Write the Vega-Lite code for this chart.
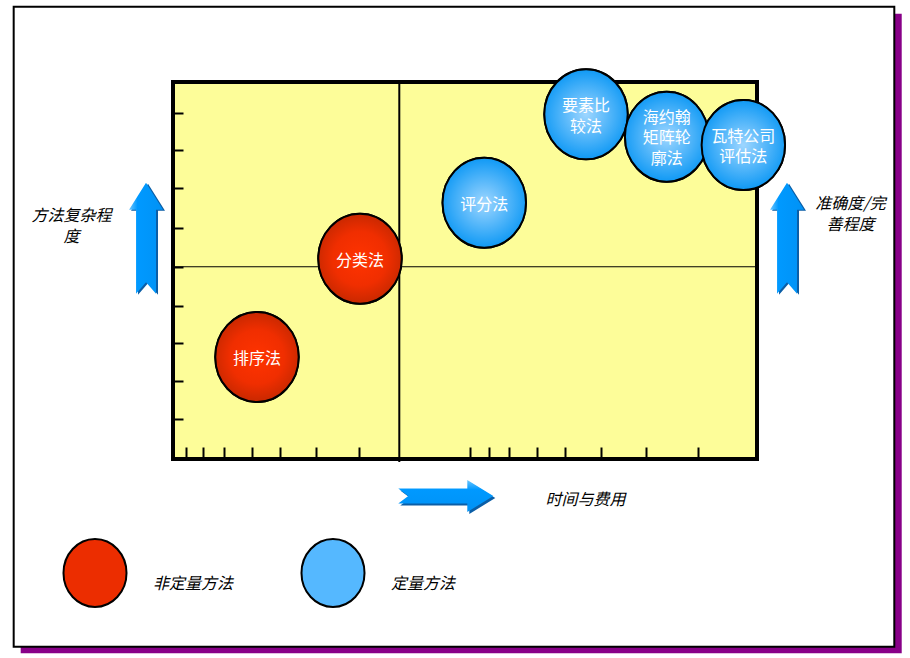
{
  "$schema": "https://vega.github.io/schema/vega-lite/v6.json",
  "width": 584,
  "height": 377,
  "autosize": {"type": "none"},
  "padding": {"left": 173, "top": 82, "right": 153, "bottom": 199},
  "background": "white",
  "config": {
    "view": {"stroke": null, "fill": null},
    "font": "Noto Sans CJK SC",
    "axis": {"titleFont": "Noto Sans CJK SC", "titleFontSize": 16, "titleFontWeight": "normal", "titleFontStyle": "italic", "titleColor": "black", "titleLineHeight": 21, "titleAngle": 0, "titleAlign": "center", "titleBaseline": "middle", "grid": false, "labels": false, "domain": false}
  },
  "datasets": {
    "methods": [
      {"method": "排序法", "label": "排序法", "cost": 14.38, "complexity": 27.06, "type": "非定量方法"},
      {"method": "分类法", "label": "分类法", "cost": 32.02, "complexity": 53.13, "type": "非定量方法"},
      {"method": "评分法", "label": "评分法", "cost": 53.3, "complexity": 67.98, "type": "定量方法"},
      {"method": "要素比较法", "label": "要素比\n较法", "cost": 70.72, "complexity": 91.43, "type": "定量方法"},
      {"method": "海约翰矩阵轮廓法", "label": "海约翰\n矩阵轮\n廓法", "cost": 84.53, "complexity": 85.49, "type": "定量方法"},
      {"method": "瓦特公司评估法", "label": "瓦特公司\n评估法", "cost": 97.66, "complexity": 83.29, "type": "定量方法"}
    ]
  },
  "resolve": {"axis": {"x": "independent", "y": "independent"}},
  "layer": [
    {
      "data": {"values": [{}]},
      "mark": {"type": "rect", "fill": "#880088"},
      "encoding": {
        "x": {"datum": -26.08, "type": "quantitative", "scale": {"domain": [0, 100], "nice": false, "zero": false}, "axis": null},
        "x2": {"datum": 124.78},
        "y": {"datum": 118.12, "type": "quantitative", "scale": {"domain": [0, 100], "nice": false, "zero": false}, "axis": null},
        "y2": {"datum": -51.54}
      }
    },
    {
      "data": {"values": [{}]},
      "mark": {"type": "rect", "fill": "white", "stroke": "black", "strokeWidth": 2},
      "encoding": {
        "x": {"datum": -27.28, "type": "quantitative", "scale": {"domain": [0, 100], "nice": false, "zero": false}, "axis": null},
        "x2": {"datum": 123.51},
        "y": {"datum": 119.97, "type": "quantitative", "scale": {"domain": [0, 100], "nice": false, "zero": false}, "axis": null},
        "y2": {"datum": -49.79}
      }
    },
    {
      "data": {"values": [{}]},
      "mark": {"type": "rect", "fill": "#FDFD99", "stroke": "black", "strokeWidth": 4},
      "encoding": {
        "x": {"datum": 0, "type": "quantitative", "scale": {"domain": [0, 100], "nice": false, "zero": false}, "axis": null},
        "x2": {"datum": 100},
        "y": {"datum": 0, "type": "quantitative", "scale": {"domain": [0, 100], "nice": false, "zero": false}, "axis": null},
        "y2": {"datum": 100}
      }
    },
    {
      "data": {"values": [{}]},
      "mark": {"type": "rule", "color": "black", "strokeWidth": 1.2},
      "encoding": {
        "x": {"datum": 0, "type": "quantitative", "scale": {"domain": [0, 100], "nice": false, "zero": false}, "axis": null},
        "x2": {"datum": 100},
        "y": {"datum": 51, "type": "quantitative", "scale": {"domain": [0, 100], "nice": false, "zero": false},
          "axis": {"orient": "right", "ticks": false, "zindex": 1, "title": ["准确度/完", "善程度"], "titleX": 93, "titleY": 121}}
      }
    },
    {
      "data": {"values": [{}]},
      "mark": {"type": "rule", "color": "black", "strokeWidth": 2},
      "encoding": {
        "x": {"datum": 38.75, "type": "quantitative", "scale": {"domain": [0, 100], "nice": false, "zero": false}, "axis": null},
        "y": {"datum": -0.8, "type": "quantitative", "scale": {"domain": [0, 100], "nice": false, "zero": false}, "axis": null},
        "y2": {"datum": 100}
      }
    },
    {
      "data": {"values": [{}]},
      "mark": {"type": "point", "shape": "M0,-1L0.306,-0.514L0.18,-0.514L0.18,1L0,0.793L-0.18,1L-0.18,-0.514L-0.306,-0.514Z", "size": 12321, "filled": true, "opacity": 1, "color": "#0B5EA6", "xOffset": 2, "yOffset": 1},
      "encoding": {
        "x": {"datum": -4.62, "type": "quantitative", "scale": {"domain": [0, 100], "nice": false, "zero": false}, "axis": null},
        "y": {"datum": 58.54, "type": "quantitative", "scale": {"domain": [0, 100], "nice": false, "zero": false}, "axis": null}
      }
    },
    {
      "data": {"values": [{}]},
      "mark": {"type": "point", "shape": "M0,-1L0.306,-0.514L0.18,-0.514L0.18,1L0,0.793L-0.18,1L-0.18,-0.514L-0.306,-0.514Z", "size": 12321, "filled": true, "opacity": 1, "color": "#0B5EA6", "xOffset": 2, "yOffset": 1},
      "encoding": {
        "x": {"datum": 105.14, "type": "quantitative", "scale": {"domain": [0, 100], "nice": false, "zero": false}, "axis": null},
        "y": {"datum": 58.54, "type": "quantitative", "scale": {"domain": [0, 100], "nice": false, "zero": false}, "axis": null}
      }
    },
    {
      "data": {"values": [{}]},
      "mark": {"type": "point", "shape": "M0,-1L0.306,-0.514L0.18,-0.514L0.18,1L0,0.793L-0.18,1L-0.18,-0.514L-0.306,-0.514Z", "size": 12321, "filled": true, "opacity": 1,
        "color": {"gradient": "linear", "x1": 0, "y1": 0, "x2": 1, "y2": 0, "stops": [{"offset": 0, "color": "#6CC6FF"}, {"offset": 0.25, "color": "#0099FF"}, {"offset": 1, "color": "#0092F5"}]}},
      "encoding": {
        "x": {"datum": -4.62, "type": "quantitative", "scale": {"domain": [0, 100], "nice": false, "zero": false}, "axis": null},
        "y": {"datum": 58.54, "type": "quantitative", "scale": {"domain": [0, 100], "nice": false, "zero": false}, "axis": null}
      }
    },
    {
      "data": {"values": [{}]},
      "mark": {"type": "point", "shape": "M0,-1L0.306,-0.514L0.18,-0.514L0.18,1L0,0.793L-0.18,1L-0.18,-0.514L-0.306,-0.514Z", "size": 12321, "filled": true, "opacity": 1,
        "color": {"gradient": "linear", "x1": 0, "y1": 0, "x2": 1, "y2": 0, "stops": [{"offset": 0, "color": "#6CC6FF"}, {"offset": 0.25, "color": "#0099FF"}, {"offset": 1, "color": "#0092F5"}]}},
      "encoding": {
        "x": {"datum": 105.14, "type": "quantitative", "scale": {"domain": [0, 100], "nice": false, "zero": false}, "axis": null},
        "y": {"datum": 58.54, "type": "quantitative", "scale": {"domain": [0, 100], "nice": false, "zero": false}, "axis": null}
      }
    },
    {
      "data": {"values": [{}]},
      "mark": {"type": "point", "shape": "M1,0L0.453,-0.337L0.453,-0.158L-1,-0.158L-0.79,0L-1,0.158L0.453,0.158L0.453,0.337Z", "size": 9025, "filled": true, "opacity": 1, "color": "#0B5EA6", "xOffset": 2, "yOffset": 2},
      "encoding": {
        "x": {"datum": 46.71, "type": "quantitative", "scale": {"domain": [0, 100], "nice": false, "zero": false}, "axis": null},
        "y": {"datum": -9.81, "type": "quantitative", "scale": {"domain": [0, 100], "nice": false, "zero": false}, "axis": null}
      }
    },
    {
      "data": {"values": [{}]},
      "mark": {"type": "point", "shape": "M1,0L0.453,-0.337L0.453,-0.158L-1,-0.158L-0.79,0L-1,0.158L0.453,0.158L0.453,0.337Z", "size": 9025, "filled": true, "opacity": 1,
        "color": {"gradient": "linear", "x1": 0, "y1": 0, "x2": 0, "y2": 1, "stops": [{"offset": 0, "color": "#6CC6FF"}, {"offset": 0.3, "color": "#0099FF"}, {"offset": 1, "color": "#0092F5"}]}},
      "encoding": {
        "x": {"datum": 46.71, "type": "quantitative", "scale": {"domain": [0, 100], "nice": false, "zero": false}, "axis": null},
        "y": {"datum": -9.81, "type": "quantitative", "scale": {"domain": [0, 100], "nice": false, "zero": false}, "axis": null}
      }
    },
    {
      "data": {"name": "methods"},
      "mark": {"type": "point", "shape": "M-0.927,0A0.927,1,0,1,1,0.927,0A0.927,1,0,1,1,-0.927,0Z", "size": 8100, "filled": true, "opacity": 1, "stroke": "black", "strokeWidth": 2},
      "encoding": {
        "x": {"field": "cost", "type": "quantitative", "scale": {"domain": [0, 100], "nice": false, "zero": false},
          "axis": {"zindex": 1, "orient": "bottom", "values": [2.17, 5.09, 8.78, 13.58, 18.32, 24.43, 31.85, 50.86, 54.11, 57.53, 62.33, 67.12, 73.29, 80.99, 89.84], "tickSize": -12, "tickWidth": 2, "tickColor": "black", "title": "时间与费用", "titleX": 412, "titleY": 40}},
        "y": {"field": "complexity", "type": "quantitative", "scale": {"domain": [0, 100], "nice": false, "zero": false},
          "axis": {"zindex": 1, "orient": "left", "values": [10.69, 20.77, 30.85, 40.66, 51.01, 61.35, 71.8, 81.96, 91.7], "tickSize": -10, "tickWidth": 2, "tickColor": "black", "title": ["方法复杂程", "度"], "titleX": -102, "titleY": 133}},
        "color": {"field": "type", "type": "nominal",
          "scale": {"domain": ["非定量方法", "定量方法"], "range": ["#EC2D00", "#55B8FF"]},
          "legend": {"orient": "none", "legendX": -113, "legendY": 456, "direction": "horizontal", "title": null, "padding": 0,
            "symbolType": "M-0.927,0A0.927,1,0,1,1,0.927,0A0.927,1,0,1,1,-0.927,0Z", "symbolSize": 4624, "symbolStrokeColor": "black", "symbolStrokeWidth": 2, "symbolOpacity": 1,
            "labelOffset": 23, "columnPadding": 63, "labelFontSize": 16, "labelFontStyle": "italic", "labelColor": "black", "labelBaseline": "top", "labelFont": "Noto Sans CJK SC",
            "encode": {
              "labels": {"update": {"dy": {"value": 3}}},
              "symbols": {"update": {
                "fill": {"signal": "datum.value === '定量方法' ? {gradient: 'radial', x1: 0.5, y1: 0.5, r1: 0, x2: 0.5, y2: 0.5, r2: 0.5, stops: [{offset: 0, color: '#9ED6FF'}, {offset: 1, color: '#0F99F5'}]} : {gradient: 'radial', x1: 0.5, y1: 0.5, r1: 0, x2: 0.5, y2: 0.5, r2: 0.5, stops: [{offset: 0, color: '#FF3300'}, {offset: 0.6, color: '#F02E00'}, {offset: 1, color: '#C82800'}]}"},
                "opacity": {"value": 1}, "stroke": {"value": "black"}, "strokeWidth": {"value": 2}}}}}
        }
      }
    },
    {
      "data": {"name": "methods"},
      "mark": {"type": "point", "shape": "M-0.927,0A0.927,1,0,1,1,0.927,0A0.927,1,0,1,1,-0.927,0Z", "size": 8100, "filled": true, "opacity": 1, "stroke": "black", "strokeWidth": 2},
      "encoding": {
        "x": {"field": "cost", "type": "quantitative", "scale": {"domain": [0, 100], "nice": false, "zero": false}, "axis": null},
        "y": {"field": "complexity", "type": "quantitative", "scale": {"domain": [0, 100], "nice": false, "zero": false}, "axis": null},
        "fill": {"condition": {"test": "datum.type === '定量方法'", "value": {"gradient": "radial", "x1": 0.5, "y1": 0.5, "r1": 0, "x2": 0.5, "y2": 0.5, "r2": 0.5, "stops": [{"offset": 0, "color": "#9ED6FF"}, {"offset": 1, "color": "#0F99F5"}]}},
          "value": {"gradient": "radial", "x1": 0.5, "y1": 0.5, "r1": 0, "x2": 0.5, "y2": 0.5, "r2": 0.5, "stops": [{"offset": 0, "color": "#FF3300"}, {"offset": 0.6, "color": "#F02E00"}, {"offset": 1, "color": "#C82800"}]}}
      }
    },
    {
      "data": {"name": "methods"},
      "transform": [{"filter": "indexof(datum.label, '\\n') < 0"}],
      "mark": {"type": "text", "color": "white", "fontSize": 16, "lineHeight": 20.5, "lineBreak": "\n", "align": "center", "baseline": "middle", "dy": 2},
      "encoding": {
        "x": {"field": "cost", "type": "quantitative", "scale": {"domain": [0, 100], "nice": false, "zero": false}, "axis": null},
        "y": {"field": "complexity", "type": "quantitative", "scale": {"domain": [0, 100], "nice": false, "zero": false}, "axis": null},
        "text": {"field": "label"}
      }
    },
    {
      "data": {"name": "methods"},
      "transform": [{"filter": "indexof(datum.label, '\\n') >= 0 && indexof(datum.label, '\\n') == lastindexof(datum.label, '\\n')"}],
      "mark": {"type": "text", "color": "white", "fontSize": 16, "lineHeight": 20.5, "lineBreak": "\n", "align": "center", "baseline": "middle", "dy": -8},
      "encoding": {
        "x": {"field": "cost", "type": "quantitative", "scale": {"domain": [0, 100], "nice": false, "zero": false}, "axis": null},
        "y": {"field": "complexity", "type": "quantitative", "scale": {"domain": [0, 100], "nice": false, "zero": false}, "axis": null},
        "text": {"field": "label"}
      }
    },
    {
      "data": {"name": "methods"},
      "transform": [{"filter": "indexof(datum.label, '\\n') >= 0 && indexof(datum.label, '\\n') != lastindexof(datum.label, '\\n')"}],
      "mark": {"type": "text", "color": "white", "fontSize": 16, "lineHeight": 20.5, "lineBreak": "\n", "align": "center", "baseline": "middle", "dy": -19},
      "encoding": {
        "x": {"field": "cost", "type": "quantitative", "scale": {"domain": [0, 100], "nice": false, "zero": false}, "axis": null},
        "y": {"field": "complexity", "type": "quantitative", "scale": {"domain": [0, 100], "nice": false, "zero": false}, "axis": null},
        "text": {"field": "label"}
      }
    }
  ]
}
